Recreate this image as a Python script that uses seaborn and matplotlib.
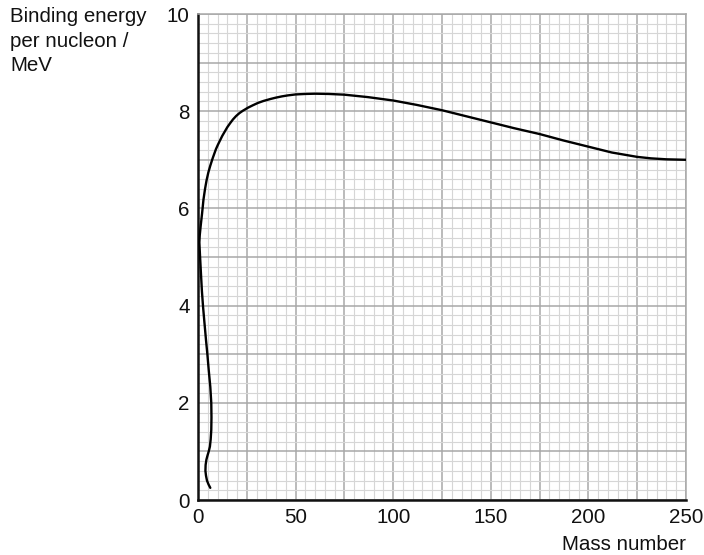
import numpy as np
import pandas as pd
import matplotlib.pyplot as plt
from matplotlib.ticker import MultipleLocator
import seaborn as sns

# Binding energy curve (path order, bottom to right end)
mass_number = [6.3, 5.4, 4.6, 4.1, 3.8, 3.9, 4.3, 4.9, 5.5, 6.1, 6.5, 6.8, 6.9, 6.8,
               6.3, 5.5, 4.8, 4.1, 3.3, 2.6, 2.0, 1.5, 1.0, 0.7, 0.9, 1.4, 2.1, 2.8,
               3.6, 4.4, 5.3, 6.3, 7.5, 8.3, 9.2, 10.2, 11.3, 12.4, 13.7, 15.0, 16.4,
               17.9, 19.5, 21.2, 23, 25.5, 28, 30.7, 33.5, 37, 40, 43, 46, 50, 55, 60,
               67, 75, 87, 100, 112, 125, 137, 150, 162, 175, 187, 200, 212, 225, 232,
               240, 250]
binding_energy = [0.25, 0.32, 0.4, 0.5, 0.6, 0.72, 0.83, 0.92, 1.0, 1.1, 1.25, 1.44,
                  1.7, 2.0, 2.33, 2.67, 3.0, 3.29, 3.65, 3.97, 4.3, 4.67, 5.05, 5.3,
                  5.45, 5.65, 5.9, 6.18, 6.4, 6.58, 6.74, 6.88, 7.03, 7.12, 7.22, 7.31,
                  7.4, 7.49, 7.58, 7.67, 7.75, 7.83, 7.9, 7.96, 8.01, 8.07, 8.12, 8.17,
                  8.21, 8.25, 8.28, 8.305, 8.325, 8.345, 8.355, 8.36, 8.355, 8.34, 8.29,
                  8.22, 8.13, 8.02, 7.9, 7.77, 7.65, 7.53, 7.4, 7.27, 7.15, 7.06, 7.03,
                  7.01, 7.0]

x_ticks = [0, 50, 100, 150, 200, 250]
y_ticks = [0, 2, 4, 6, 8, 10]

data = pd.DataFrame({'A': mass_number, 'BE': binding_energy})

sns.set_style('white')
plt.rcParams['font.family'] = ['Liberation Sans', 'DejaVu Sans']

fig = plt.figure(figsize=(7.04, 5.55), dpi=100)
ax = fig.add_axes([198 / 704, 55 / 555, 488 / 704, 486 / 555])

sns.lineplot(data=data, x='A', y='BE', sort=False, estimator=None,
             color='black', linewidth=1.7, ax=ax, zorder=5)

ax.set_xlim(0, 250)
ax.set_ylim(0, 10)
ax.xaxis.set_major_locator(MultipleLocator(25))
ax.xaxis.set_minor_locator(MultipleLocator(5))
ax.yaxis.set_major_locator(MultipleLocator(1))
ax.yaxis.set_minor_locator(MultipleLocator(0.2))
ax.grid(which='major', color='#a8a8a8', linewidth=1.1)
ax.grid(which='minor', color='#d6d6d6', linewidth=0.8)
ax.set_axisbelow(True)

# labels only every 50 / every 2
ax.set_xticks(np.arange(0, 251, 25))
ax.set_xticklabels([str(v) if v in x_ticks else '' for v in range(0, 251, 25)])
ax.set_yticks(np.arange(0, 11, 1))
ax.set_yticklabels([str(v) if v in y_ticks else '' for v in range(0, 11)])
ax.tick_params(which='both', length=0, labelsize=14.8, pad=6, colors='#111111')

for side in ['left', 'bottom']:
    ax.spines[side].set_color('#111111')
    ax.spines[side].set_linewidth(1.8)
for side in ['top', 'right']:
    ax.spines[side].set_color('#a8a8a8')
    ax.spines[side].set_linewidth(1.1)

ax.set_xlabel('')
ax.set_ylabel('')
fig.text(686 / 704, 1 - 545 / 555, 'Mass number', ha='right', va='center',
         fontsize=14.8, color='#111111')
fig.text(10 / 704, 1 - 7 / 555, 'Binding energy\nper nucleon /\nMeV', ha='left',
         va='top', fontsize=14.8, color='#111111', linespacing=1.38)

fig.savefig('out.png', dpi=100)
plt.close()
